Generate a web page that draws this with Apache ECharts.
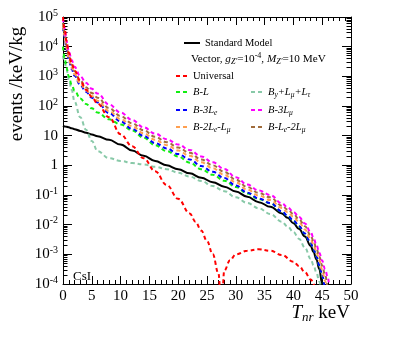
<!DOCTYPE html>
<html>
<head>
<meta charset="utf-8">
<script src="https://cdn.jsdelivr.net/npm/echarts@6/dist/echarts.min.js"></script>
<style>
html,body{margin:0;padding:0;background:#fff;}
#chart{width:399px;height:338px;}
</style>
</head>
<body>
<div id="chart"></div>
<script>
var serif = '"Liberation Serif", "Times New Roman", serif';

// nuclear recoil energy T_nr (keV)
var energy = [0, 0.3, 0.6, 1, 1.5, 2, 3, 4, 5, 6, 8, 10, 12, 14, 16, 18, 20, 22, 24, 26, 28, 30, 32, 34, 36, 38, 39, 40, 41, 42, 43, 43.5, 44, 44.5, 45, 45.5, 46, 46.5];
var energyUniversal = [0, 0.3, 0.6, 1, 1.5, 2, 3, 4, 5, 6, 8, 10, 12, 14, 16, 18, 20, 22, 23, 24, 25, 26, 27, 27.5, 28, 29, 30, 32, 34, 36, 38, 40, 41, 42, 43, 44];

// events /keV/kg
var standardModel = [21.4, 20.4, 20.0, 19.1, 17.8, 16.6, 14.5, 12.6, 11.0, 9.55, 7.24, 5.01, 3.16, 2.09, 1.41, 1.0, 0.741, 0.537, 0.380, 0.269, 0.191, 0.132, 0.0871, 0.0575, 0.0398, 0.0240, 0.0170, 0.0112, 0.00708, 0.00398, 0.00191, 0.00120, 0.000676, 0.000316, 0.0001, 1e-5, null, null];
var universal = [1e5, 39800, 15800, 6310, 2820, 1580, 708, 355, 200, 120, 41.7, 11.2, 4.37, 1.74, 0.631, 0.219, 0.0741, 0.0240, 0.0126, 0.00631, 0.00282, 0.00100, 0.000224, 1e-5, 0.000282, 0.000631, 0.00100, 0.00132, 0.00148, 0.00132, 0.000955, 0.000562, 0.000398, 0.000251, 0.000141, 5e-5];
var bMinusL = [10000, 3980, 2000, 1000, 525, 331, 178, 117, 83.2, 60.3, 35.5, 24.0, 15.1, 8.51, 4.79, 3.02, 2.0, 1.23, 0.741, 0.479, 0.302, 0.186, 0.112, 0.0724, 0.0525, 0.0275, 0.0195, 0.0135, 0.00871, 0.00490, 0.00234, 0.00145, 0.000832, 0.000417, 0.000191, 7.6e-5, 1e-5, null];
var byLmuLtau = [5010, 2820, 1780, 794, 355, 141, 41.7, 15.8, 6.61, 3.02, 1.74, 1.41, 1.20, 1.07, 0.891, 0.741, 0.562, 0.417, 0.295, 0.200, 0.135, 0.0832, 0.0537, 0.0355, 0.0229, 0.0126, 0.00870, 0.00562, 0.00331, 0.00166, 0.000708, 0.000427, 0.000240, 0.000120, 4e-5, null, null, null];
var bMinus3Le = [44700, 20000, 7940, 3550, 1780, 1050, 501, 302, 191, 132, 57.5, 30.2, 17.0, 9.77, 5.62, 3.72, 2.40, 1.58, 0.955, 0.603, 0.372, 0.209, 0.120, 0.0759, 0.0537, 0.0282, 0.0200, 0.0138, 0.00891, 0.00501, 0.00240, 0.00148, 0.000851, 0.000427, 0.000200, 7.9e-5, 1e-5, null];
var bMinus3Lmu = [89100, 39800, 15800, 7080, 3550, 2090, 1000, 603, 380, 263, 112, 60.3, 33.9, 19.1, 11.7, 7.59, 5.01, 3.31, 2.0, 1.26, 0.759, 0.398, 0.224, 0.141, 0.100, 0.0525, 0.0380, 0.0269, 0.0182, 0.0110, 0.00562, 0.00355, 0.00209, 0.00112, 0.000603, 0.000316, 0.000158, 1e-5];
var bMinus2LeLmu = [50100, 22400, 8910, 3980, 2000, 1170, 562, 339, 219, 151, 67.6, 36.3, 20.9, 12.0, 7.24, 4.79, 3.16, 2.09, 1.26, 0.794, 0.479, 0.269, 0.151, 0.0955, 0.0676, 0.0363, 0.0263, 0.0186, 0.0120, 0.00692, 0.00331, 0.00209, 0.00120, 0.000631, 0.000302, 0.000126, 3.2e-5, null];
var bMinusLe2Lmu = [63100, 28200, 11200, 5010, 2510, 1480, 708, 427, 275, 191, 85.1, 45.7, 26.3, 15.1, 9.12, 6.03, 3.98, 2.63, 1.58, 1.0, 0.603, 0.331, 0.186, 0.117, 0.0832, 0.0437, 0.0324, 0.0229, 0.0151, 0.00891, 0.00437, 0.00275, 0.00158, 0.000832, 0.000417, 0.000200, 7.9e-5, 1e-5];

var legendText = {
	'Standard Model': '{r|Standard Model}',
	'Universal': '{r|Universal}',
	'B-L': '{i|B-L}',
	'By+Lmu+Ltau': '{i|B}{s|y}{i|+L}{s|\u03bc}{i|+L}{s|\u03c4}',
	'B-3Le': '{i|B-3L}{s|e}',
	'B-3Lmu': '{i|B-3L}{s|\u03bc}',
	'B-2Le-Lmu': '{i|B-2L}{s|e}{i|-L}{s|\u03bc}',
	'B-Le-2Lmu': '{i|B-L}{s|e}{i|-2L}{s|\u03bc}'
};

function richFor(size) {
	return {
		r: {fontFamily: serif, fontSize: size, lineHeight: 14, color: '#000'},
		i: {fontFamily: serif, fontSize: size, fontStyle: 'italic', lineHeight: 14, color: '#000'},
		s: {fontFamily: serif, fontSize: size * 0.72, fontStyle: 'italic', lineHeight: 8, verticalAlign: 'bottom', color: '#000'},
		p: {fontFamily: serif, fontSize: size * 0.72, lineHeight: 8, verticalAlign: 'top', color: '#000'}
	};
}

function pairs(xs, ys) {
	var out = [];
	for (var i = 0; i < xs.length; i++) {
		if (ys[i] != null) out.push([xs[i], ys[i]]);
	}
	return out;
}

function curve(name, xs, ys, color, dashed) {
	return {
		name: name,
		type: 'line',
		data: pairs(xs, ys),
		symbol: 'none',
		showSymbol: false,
		smooth: 0.4,
		smoothMonotone: 'x',
		clip: true,
		lineStyle: {color: color, width: 2, type: dashed ? [4, 3] : 'solid'},
		itemStyle: {color: color}
	};
}

function legendAt(name, left, top, w) {
	return {
		data: [name],
		left: left,
		top: top,
		itemWidth: w,
		itemHeight: 8,
		padding: 0,
		selectedMode: false,
		itemStyle: {opacity: 0},
		formatter: function (n) { return legendText[n]; },
		textStyle: {fontFamily: serif, fontSize: 10.5, lineHeight: 14, color: '#000', rich: richFor(10.5)}
	};
}

function xAxisAt(pos, labels) {
	return {
		type: 'value', min: 0, max: 50, interval: 5, position: pos,
		axisLine: {onZero: false, lineStyle: {color: '#000', width: 1}},
		axisTick: {inside: true, length: 8, lineStyle: {color: '#000'}},
		minorTick: {show: true, splitNumber: 5, length: 4, lineStyle: {color: '#000'}},
		axisLabel: {show: labels, color: '#000', fontFamily: serif, fontSize: 15, margin: 5},
		splitLine: {show: false}
	};
}

function yAxisAt(pos, labels) {
	return {
		type: 'log', logBase: 10, min: 1e-4, max: 1e5, position: pos,
		axisLine: {onZero: false, lineStyle: {color: '#000', width: 1}},
		axisTick: {inside: true, length: 9, lineStyle: {color: '#000'}},
		minorTick: {show: true, splitNumber: 9, length: 4.5, lineStyle: {color: '#000'}},
		axisLabel: {
			show: labels, margin: 5,
			formatter: function (v) {
				var e = Math.round(Math.log10(v));
				if (e === 0) return '{n|1}';
				if (e === 1) return '{n|10}';
				return '{n|10}{p|' + e + '}';
			},
			rich: {
				n: {fontFamily: serif, fontSize: 15, lineHeight: 18, color: '#000'},
				p: {fontFamily: serif, fontSize: 10, lineHeight: 10, verticalAlign: 'top', color: '#000'}
			}
		},
		splitLine: {show: false}
	};
}

var myChart = echarts.init(document.getElementById('chart'));
var option = {
	animation: false,
	backgroundColor: '#fff',
	textStyle: {fontFamily: serif},
	grid: {left: 63, right: 48, top: 17, bottom: 54, containLabel: false},
	xAxis: [xAxisAt('bottom', true), xAxisAt('top', false)],
	yAxis: [yAxisAt('left', true), yAxisAt('right', false)],
	legend: [
		legendAt('Standard Model', 183, 36, 16),
		legendAt('Universal', 175, 69, 12),
		legendAt('B-L', 175, 85, 12),
		legendAt('By+Lmu+Ltau', 250, 85, 12),
		legendAt('B-3Le', 175, 103, 12),
		legendAt('B-3Lmu', 250, 103, 12),
		legendAt('B-2Le-Lmu', 175, 120, 12),
		legendAt('B-Le-2Lmu', 250, 120, 12)
	],
	graphic: [
		{
			type: 'text', x: 191, y: 59,
			style: {
				text: '{r|Vector, }{i|g}{s|Z\'}{r|=10}{p|-4}{r|, }{i|M}{s|Z\'}{r|=10 MeV}',
				rich: richFor(11.2), align: 'left', verticalAlign: 'middle'
			}
		},
		{
			type: 'text', x: 73, y: 277,
			style: {text: 'CsI', fontFamily: serif, fontSize: 13, fill: '#000', align: 'left', verticalAlign: 'middle'}
		},
		{
			type: 'text', x: 350, y: 313,
			style: {
				text: '{t|T}{u|nr}{k| keV}',
				align: 'right', verticalAlign: 'middle',
				rich: {
					t: {fontFamily: serif, fontSize: 19, fontStyle: 'italic', lineHeight: 22, color: '#000'},
					u: {fontFamily: serif, fontSize: 13, fontStyle: 'italic', lineHeight: 12, verticalAlign: 'bottom', color: '#000'},
					k: {fontFamily: serif, fontSize: 19, lineHeight: 22, color: '#000'}
				}
			}
		},
		{
			type: 'text', x: 17, y: 84, rotation: Math.PI / 2,
			style: {text: 'events /keV/kg', fontFamily: serif, fontSize: 19, fill: '#000', align: 'center', verticalAlign: 'middle'}
		}
	],
	series: [
		curve('Standard Model', energy, standardModel, '#000000', false),
		curve('By+Lmu+Ltau', energy, byLmuLtau, '#88c9a8', true),
		curve('B-L', energy, bMinusL, '#11ee11', true),
		curve('B-3Le', energy, bMinus3Le, '#0000ff', true),
		curve('B-2Le-Lmu', energy, bMinus2LeLmu, '#ff9f4f', true),
		curve('B-Le-2Lmu', energy, bMinusLe2Lmu, '#a06c3c', true),
		curve('B-3Lmu', energy, bMinus3Lmu, '#ff00ff', true),
		curve('Universal', energyUniversal, universal, '#ff0000', true)
	]
};
myChart.setOption(option);
</script>
</body>
</html>
